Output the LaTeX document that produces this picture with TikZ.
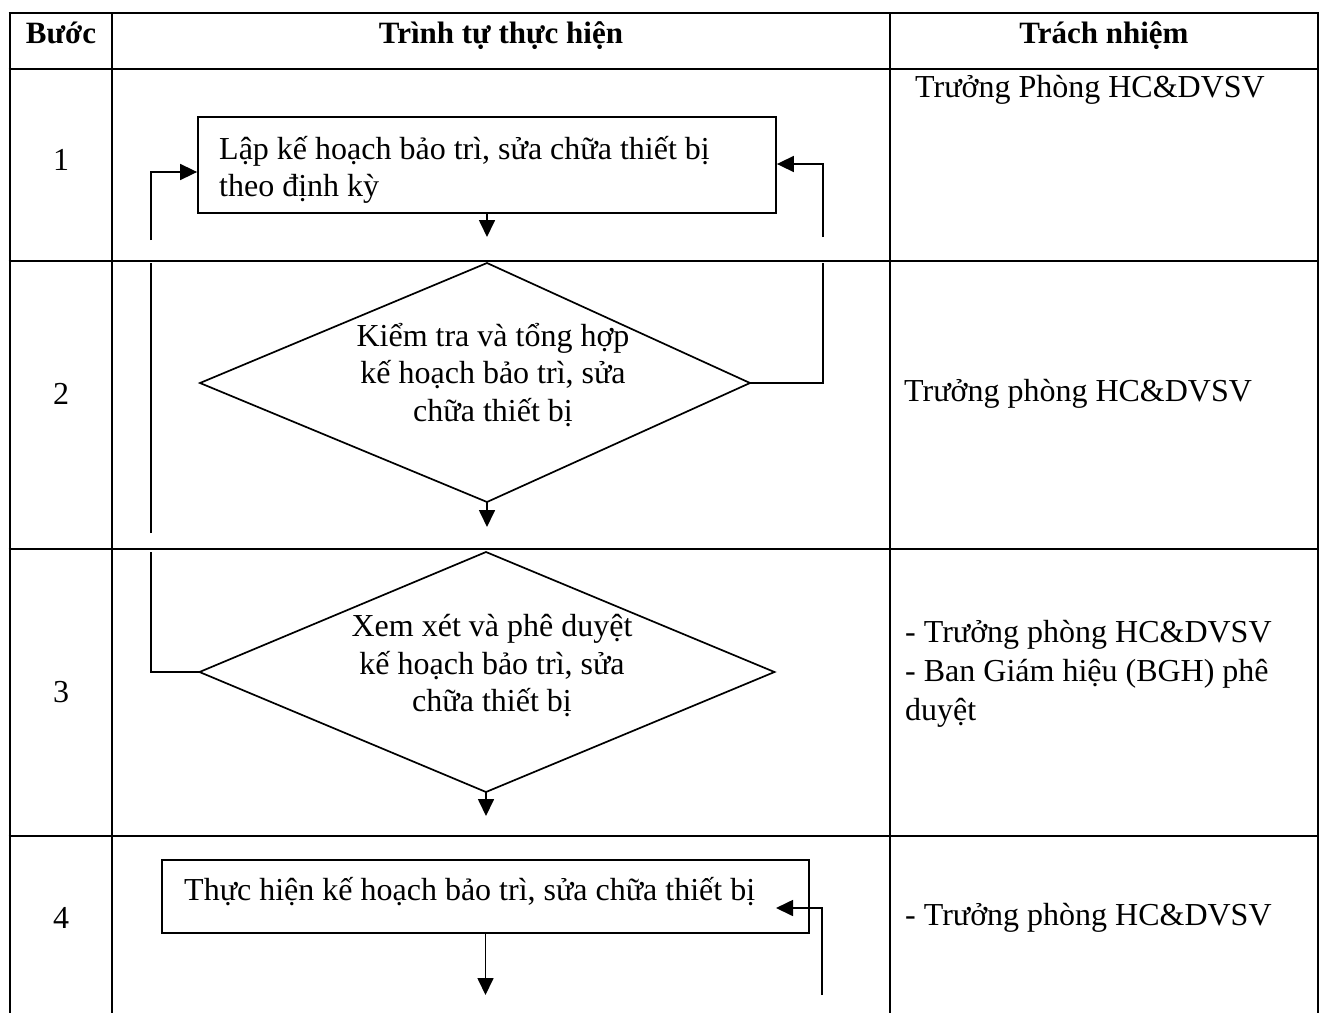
\documentclass[tikz,border=0pt]{standalone}
\usepackage{fontspec}
\setmainfont{Liberation Serif}
\usetikzlibrary{arrows.meta}
\begin{document}
\begin{tikzpicture}[x=1pt,y=-1pt,
  grid/.style={line width=2.6pt},
  flow/.style={line width=1.7pt},
  arr/.style={flow,-{Triangle[length=17pt,width=16pt]}},
  txt/.style={font=\fontsize{32}{37.5}\selectfont, inner sep=0pt},
  rtxt/.style={font=\fontsize{32}{39}\selectfont, inner sep=0pt, anchor=west, align=flush left},
  hdr/.style={font=\bfseries\fontsize{31}{36}\selectfont, inner sep=0pt, anchor=base},
  fbox/.style={draw, line width=1.8pt, inner sep=0pt},
  btxt/.style={font=\fontsize{32}{37.5}\selectfont, inner sep=0pt, anchor=west, align=flush left}]
\useasboundingbox (0,0) rectangle (1319,1012);
\fill[white] (0,0) rectangle (1319,1012);
% table grid
\foreach \yy in {13,69,261,549,836}{\draw[grid] (8.7,\yy) -- (1319.3,\yy);}
\foreach \xx in {10,112,890,1318}{\draw[grid] (\xx,13) -- (\xx,1015);}
% header
\node[hdr] (h1) at (61,43) {Bước};
\node[hdr] (h2) at (501,43) {Trình tự thực hiện};
\node[hdr] (h3) at (1104,43) {Trách nhiệm};
% step numbers
\node[txt] (n1) at (61,160) {1};
\node[txt] (n2) at (61,394) {2};
\node[txt] (n3) at (61,692) {3};
\node[txt] (n4) at (61,918) {4};
% responsibilities
\node[rtxt] (r1) at (915,90) {Trưởng Phòng HC\&DVSV};
\node[rtxt] (r2) at (904,394) {Trưởng phòng HC\&DVSV};
\node[rtxt] (r3) at (905,674) {- Trưởng phòng HC\&DVSV\\- Ban Giám hiệu (BGH) phê\\duyệt};
\node[rtxt] (r4) at (905,918) {- Trưởng phòng HC\&DVSV};
% step 1 box
\node[fbox, minimum width=578pt, minimum height=96pt] (b1) at (487,165) {};
\node[btxt] (t1) at (219,170) {Lập kế hoạch bảo trì, sửa chữa thiết bị\\theo định kỳ};
% diamond 2
\coordinate (d2n) at (487,263);
\coordinate (d2e) at (750,383);
\coordinate (d2s) at (487,502);
\coordinate (d2w) at (200,383);
\draw[flow] (d2n) -- (d2e) -- (d2s) -- (d2w) -- cycle;
\node[txt, align=center] (t2) at (493,375) {Kiểm tra và tổng hợp\\kế hoạch bảo trì, sửa\\chữa thiết bị};
% diamond 3
\coordinate (d3n) at (486,552);
\coordinate (d3e) at (774.5,672);
\coordinate (d3s) at (486,792);
\coordinate (d3w) at (199.5,672);
\draw[flow] (d3n) -- (d3e) -- (d3s) -- (d3w) -- cycle;
\node[txt, align=center] (t3) at (492,666) {Xem xét và phê duyệt\\kế hoạch bảo trì, sửa\\chữa thiết bị};
% step 4 box
\node[fbox, minimum width=647pt, minimum height=73pt] (b4) at (485.5,896.5) {};
\node[btxt] (t4) at (184,892) {Thực hiện kế hoạch bảo trì, sửa chữa thiết bị};
% downward arrows
\coordinate (a1) at (487,237);
\coordinate (a2) at (487,527);
\coordinate (a3) at (486,816);
\coordinate (a4) at (485.5,995);
\draw[arr] (b1.south) -- (a1);
\draw[arr] (d2s) -- (a2);
\draw[arr] (d3s) -- (a3);
\draw[arr] (b4.south) -- (a4);
% left return loop (diamond 3 -> box 1)
\coordinate (lA) at (151,672);
\coordinate (lB) at (151,552);
\coordinate (lC) at (151,533);
\coordinate (lD) at (151,263);
\coordinate (lE) at (151,240);
\coordinate (lF) at (151,172);
\draw[flow] (d3w) -- (lA) -- (lB);
\draw[flow] (lC) -- (lD);
\draw[arr] (lE) -- (lF) -- (b1.west |- lF);
% right return loop (diamond 2 -> box 1)
\coordinate (rA) at (823,383);
\coordinate (rB) at (823,263);
\coordinate (rC) at (823,237);
\coordinate (rD) at (823,164);
\draw[flow] (d2e) -- (rA) -- (rB);
\draw[arr] (rC) -- (rD) -- (b1.east |- rD);
% right loop into box 4
\coordinate (rE) at (822,995);
\coordinate (rF) at (822,908);
\coordinate (b4in) at (776,908);
\draw[arr] (rE) -- (rF) -- (b4in);
\end{tikzpicture}
\end{document}
